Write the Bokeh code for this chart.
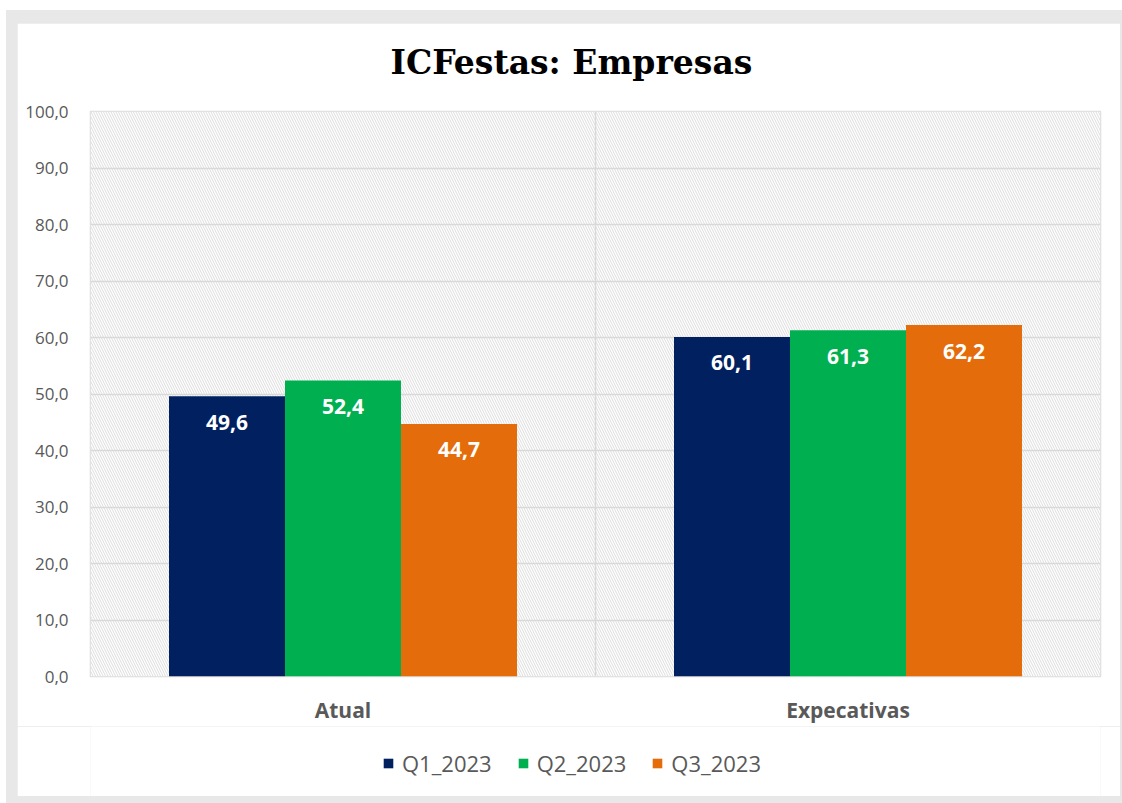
from bokeh.plotting import figure
from bokeh.models import (FactorRange, ColumnDataSource, Span, Legend, LegendItem, Title,
                          CustomJSTickFormatter, BoxAnnotation, Range1d, FixedTicker)
from bokeh.transform import dodge
from bokeh.layouts import column
from bokeh.core.properties import value
from bokeh.embed import file_html
from bokeh.resources import INLINE

categories = ["Atual", "Expecativas"]
series = ["Q1_2023", "Q2_2023", "Q3_2023"]
q1 = [49.6, 60.1]
q2 = [52.4, 61.3]
q3 = [44.7, 62.2]
colors = ["#002060", "#00B050", "#E46C0A"]
y_ticks = [0, 10, 20, 30, 40, 50, 60, 70, 80, 90, 100]

FONT = "Open Sans"
GRAY = "#595959"

p = figure(x_range=FactorRange(*categories), y_range=Range1d(0, 100),
           frame_width=1010, frame_height=565, output_backend="svg", toolbar_location=None,
           min_border_left=73, min_border_right=20, min_border_top=88, min_border_bottom=50)
p.border_fill_color = "white"
p.background_fill_color = "white"
p.outline_line_color = "#d9d9d9"
p.outline_line_width = 1.5
p.margin = (13, 2, 0, 11)

p.title.text = "ICFestas: Empresas"
p.title.align = "left"
p.title.offset = 300
p.title.vertical_align = "top"
p.title.standoff = 0
p.title.text_font = "DejaVu Serif"
p.title.text_font_size = "33px"
p.title.text_font_style = "bold"
p.title.text_color = "black"
# blank spacer between the title and the plot area
p.add_layout(Title(text=" ", text_font_size="1px", standoff=25), "above")

hatch = BoxAnnotation(fill_color="white", fill_alpha=1, line_color=None,
                      hatch_pattern="\\", hatch_color="#dcdcdc", hatch_scale=5,
                      hatch_weight=1, level="image")
p.add_layout(hatch)

p.ygrid.grid_line_color = "#d9d9d9"
p.ygrid.grid_line_width = 1.5
p.ygrid.ticker = FixedTicker(ticks=y_ticks)
p.xgrid.grid_line_color = None
p.add_layout(Span(location=1, dimension="height", line_color="#d9d9d9", line_width=1.5, level="underlay"))

p.yaxis.ticker = FixedTicker(ticks=y_ticks)
p.yaxis.formatter = CustomJSTickFormatter(code="return tick.toFixed(1).replace('.', ',');")
for ax in (p.xaxis, p.yaxis):
    ax.axis_line_color = None
    ax.major_tick_line_color = None
    ax.minor_tick_line_color = None
    ax.major_label_text_color = GRAY
    ax.major_label_text_font = FONT
p.yaxis.major_label_text_font_size = "17px"
p.yaxis.major_label_standoff = 16
p.xaxis.major_label_text_font_size = "21px"
p.xaxis.major_label_text_font_style = "bold"
p.xaxis.major_label_standoff = 13

# legend strip (separate figure below the chart; its bars lie outside its view)
leg = figure(x_range=FactorRange(*categories), y_range=Range1d(1000, 1001),
             width=1103, height=70, output_backend="svg", toolbar_location=None,
             min_border=0, min_border_left=0, min_border_right=0,
             min_border_top=0, min_border_bottom=0,
             x_axis_location=None, y_axis_location=None)
leg.border_fill_color = "white"
leg.background_fill_color = "white"
leg.background_fill_alpha = 1
leg.outline_line_color = None
leg.grid.grid_line_color = None
leg.margin = (0, 2, 7, 11)

width = 0.2297
offsets = [-width, 0, width]
vals = [q1, q2, q3]
items = []
for s, v, c, off in zip(series, vals, colors, offsets):
    src = ColumnDataSource(dict(cat=categories, val=v,
                                lab=[f"{x:.1f}".replace(".", ",") for x in v]))
    p.vbar(x=dodge("cat", off, range=p.x_range), top="val", width=width,
           source=src, fill_color=c, line_color=None)
    p.text(x=dodge("cat", off, range=p.x_range), y="val", text="lab", source=src,
           text_color="white", text_font=value(FONT), text_font_size="21px",
           text_font_style="bold", text_align="center", text_baseline="middle",
           y_offset=26)
    r = leg.vbar(x=dodge("cat", off, range=leg.x_range), top="val", width=width,
                 source=src, fill_color=c, line_color=None)
    items.append(LegendItem(label=s, renderers=[r]))

legend = Legend(items=items, orientation="horizontal", location=(292, 18),
                label_text_font=FONT, label_text_font_size="22px", label_text_color=GRAY,
                glyph_width=12, glyph_height=12, spacing=25, label_standoff=8,
                border_line_color=None, background_fill_alpha=0, margin=0, padding=0)
leg.add_layout(legend, "center")

layout = column(p, leg, styles={"background-color": "#e8e8e8"}, margin=(10, 0, 0, 6), spacing=0)
open("out.html", "w").write(file_html(layout, INLINE))
